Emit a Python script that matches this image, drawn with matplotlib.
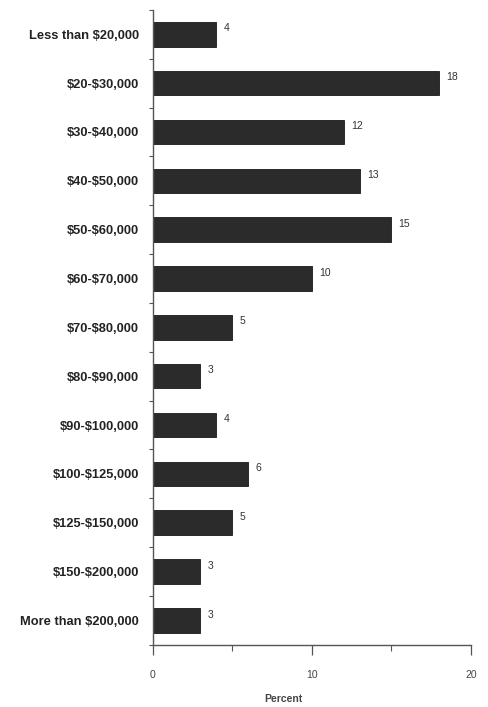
import matplotlib.pyplot as plt
from matplotlib.ticker import FixedLocator

# Household income distribution (percent)
categories = ['Less than $20,000', '$20-$30,000', '$30-$40,000', '$40-$50,000',
              '$50-$60,000', '$60-$70,000', '$70-$80,000', '$80-$90,000',
              '$90-$100,000', '$100-$125,000', '$125-$150,000',
              '$150-$200,000', 'More than $200,000']
percents = [4, 18, 12, 13, 15, 10, 5, 3, 4, 6, 5, 3, 3]
x_ticks = [0, 10, 20]
x_minor = [5, 15]

plt.rcParams['font.family'] = ['Liberation Sans', 'DejaVu Sans']
plt.rcParams['text.parse_math'] = False  # keep the $ signs literal

fig = plt.figure(figsize=(4.88, 7.07), dpi=100)
ax = fig.add_axes([0.313, 0.088, 0.652, 0.898])

pos = list(range(len(categories)))
ax.barh(pos, percents, height=0.5, color='#2b2b2b', edgecolor='#1a1a1a', linewidth=0.6)

for y, v in zip(pos, percents):
    ax.text(v + 0.45, y - 0.12, str(v), fontsize=7.5, color='#333333', va='center', ha='left')

ax.set_xlim(0, 20)
ax.set_ylim(len(categories) - 0.5, -0.5)

ax.set_yticks(pos)
ax.set_yticklabels(categories, fontsize=9.3, fontweight='bold', color='#222222')
ax.yaxis.set_minor_locator(FixedLocator([p - 0.5 for p in pos] + [len(pos) - 0.5]))
ax.tick_params(axis='y', which='major', length=0, pad=10)
ax.tick_params(axis='y', which='minor', length=3, width=0.8, color='#555555', direction='out')

ax.set_xticks(x_ticks)
ax.set_xticklabels([str(t) for t in x_ticks], fontsize=7.5, color='#444444')
ax.xaxis.set_minor_locator(FixedLocator(x_minor))
ax.tick_params(axis='x', which='major', length=7, width=0.9, color='#555555', pad=11)
ax.tick_params(axis='x', which='minor', length=4, width=0.8, color='#555555')

ax.set_xlabel('Percent', fontsize=7.5, fontweight='bold', color='#444444')
ax.xaxis.set_label_coords(0.41, -0.078)

for side in ['top', 'right']:
    ax.spines[side].set_visible(False)
for side in ['left', 'bottom']:
    ax.spines[side].set_color('#555555')
    ax.spines[side].set_linewidth(1.0)

fig.savefig('out.png', dpi=100)
